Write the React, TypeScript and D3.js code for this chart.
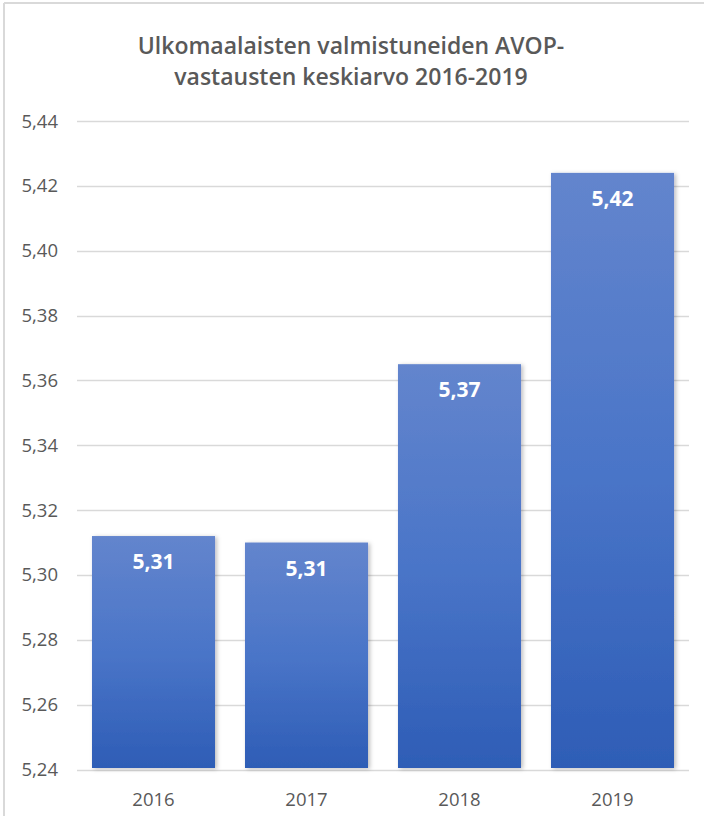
import React from "react";
import * as d3 from "d3";

const categories = ["2016", "2017", "2018", "2019"];
const values = [5.312, 5.31, 5.365, 5.424];
const valueLabels = ["5,31", "5,31", "5,37", "5,42"];
const yTicks = [5.24, 5.26, 5.28, 5.3, 5.32, 5.34, 5.36, 5.38, 5.4, 5.42, 5.44];
const titleLines = ["Ulkomaalaisten valmistuneiden AVOP-", "vastausten keskiarvo 2016-2019"];

const W = 704;
const H = 816;
const FONT = "'Open Sans', 'Noto Sans', sans-serif";

export default function App() {
  const x = d3.scaleBand<string>().domain(categories).range([77, 689]).paddingInner(0.196).paddingOuter(0.098);
  const y = d3.scaleLinear().domain([5.24, 5.44]).range([769.5, 121]);
  const fmt = (v: number) => v.toFixed(2).replace(".", ",");

  return (
    <svg width={W} height={H} style={{ position: "absolute", left: 0, top: 0, background: "#fff" }}>
      <defs>
        <linearGradient id="barGrad" x1="0" y1="0" x2="0" y2="1">
          <stop offset="0%" stopColor="#6385CD" />
          <stop offset="50%" stopColor="#4A75C8" />
          <stop offset="100%" stopColor="#2E5DB6" />
        </linearGradient>
        <filter id="shadow" x="-10%" y="-10%" width="130%" height="120%">
          <feDropShadow dx="2" dy="1" stdDeviation="2" floodColor="#000" floodOpacity="0.25" />
        </filter>
      </defs>
      <line x1={4} y1={3} x2={W} y2={3} stroke="#d9d9d9" strokeWidth={2} />
      <line x1={4} y1={3} x2={4} y2={H} stroke="#d9d9d9" strokeWidth={2} />
      <g>
        {titleLines.map((t, i) => (
          <text key={i} x={351} y={54 + i * 31} textAnchor="middle" fontFamily={FONT} fontSize={23} fontWeight={600} fill="#595959">
            {t}
          </text>
        ))}
      </g>
      <g>
        {yTicks.map((t) => (
          <g key={t}>
            <line x1={77} x2={689} y1={Math.round(y(t)) + 0.5} y2={Math.round(y(t)) + 0.5} stroke="#d9d9d9" strokeWidth={1.5} />
            <text x={58} y={y(t) + 6.5} textAnchor="end" fontFamily={FONT} fontSize={18.5} fill="#595959">
              {fmt(t)}
            </text>
          </g>
        ))}
      </g>
      <g>
        {categories.map((c, i) => (
          <g key={c}>
            <rect
              x={x(c)}
              y={y(values[i])}
              width={x.bandwidth()}
              height={y(5.24) - y(values[i]) - 1.5}
              fill="url(#barGrad)"
              filter="url(#shadow)"
            />
            <text
              x={(x(c) as number) + x.bandwidth() / 2}
              y={y(values[i]) + 33}
              textAnchor="middle"
              fontFamily={FONT}
              fontSize={21}
              fontWeight={700}
              fill="#fff"
            >
              {valueLabels[i]}
            </text>
            <text
              x={(x(c) as number) + x.bandwidth() / 2}
              y={806}
              textAnchor="middle"
              fontFamily={FONT}
              fontSize={18.5}
              fill="#595959"
            >
              {c}
            </text>
          </g>
        ))}
      </g>
    </svg>
  );
}
